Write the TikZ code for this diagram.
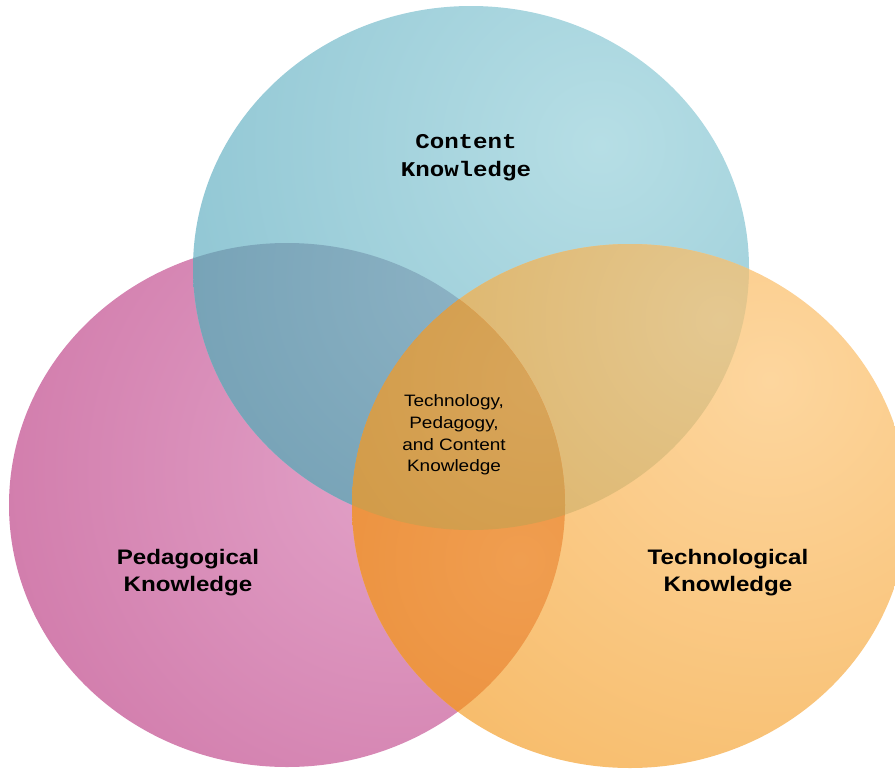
\documentclass[tikz,border=0pt]{standalone}
\usepackage{fontspec}
\newfontfamily\monolabel[FakeStretch=1.15]{Liberation Mono}
\newfontfamily\sanslabel[FakeStretch=1.15]{Liberation Sans}

\definecolor{tealhi}{RGB}{182,222,229}
\definecolor{teallo}{RGB}{112,178,197}
\definecolor{pinkhi}{RGB}{226,162,200}
\definecolor{pinklo}{RGB}{198,98,152}
\definecolor{orangehi}{RGB}{253,214,158}
\definecolor{orangelo}{RGB}{242,166,64}
\definecolor{tphi}{RGB}{140,178,196}
\definecolor{tplo}{RGB}{96,146,168}
\definecolor{tohi}{RGB}{228,200,145}
\definecolor{tolo}{RGB}{218,170,85}
\definecolor{pohi}{RGB}{240,158,80}
\definecolor{polo}{RGB}{232,134,46}
\definecolor{allhi}{RGB}{216,165,90}
\definecolor{alllo}{RGB}{205,148,60}

\tikzset{
  venn/.style={x radius=278, y radius=262},
  biglabel/.style={align=center, text=black, font=\sanslabel\bfseries\fontsize{21}{27}\selectfont},
  monolabel/.style={align=center, text=black, font=\monolabel\bfseries\fontsize{21}{28}\selectfont},
  midlabel/.style={align=center, text=black, font=\sanslabel\fontsize{16.5}{21.7}\selectfont}
}

\begin{document}
\begin{tikzpicture}[x=1pt,y=1pt,yscale=-1,xscale=1]
		\useasboundingbox (0,0) rectangle (895,769);

		% Centres of the three circles
		\coordinate (cteal) at (471,268);
		\coordinate (cpink) at (287,505);
		\coordinate (corange) at (630,506);

		% Pedagogical circle
		\begin{scope}
			\clip (cpink) ellipse [venn];
			\shade[inner color=pinkhi, outer color=pinklo] (400,470) circle [radius=700];
		\end{scope}

		% Content circle
		\begin{scope}
			\clip (cteal) ellipse [venn];
			\shade[inner color=tealhi, outer color=teallo] (600,145) circle [radius=820];
		\end{scope}

		% Technological circle
		\begin{scope}
			\clip (corange) ellipse [venn];
			\shade[inner color=orangehi, outer color=orangelo] (770,380) circle [radius=860];
		\end{scope}

		% Content and pedagogical overlap
		\begin{scope}
			\clip (cpink) ellipse [venn];
			\clip (cteal) ellipse [venn];
			\shade[inner color=tphi, outer color=tplo] (470,280) circle [radius=600];
		\end{scope}

		% Content and technological overlap
		\begin{scope}
			\clip (corange) ellipse [venn];
			\clip (cteal) ellipse [venn];
			\shade[inner color=tohi, outer color=tolo] (720,320) circle [radius=500];
		\end{scope}

		% Pedagogical and technological overlap
		\begin{scope}
			\clip (corange) ellipse [venn];
			\clip (cpink) ellipse [venn];
			\shade[inner color=pohi, outer color=polo] (520,560) circle [radius=400];
		\end{scope}

		% All three
		\begin{scope}
			\clip (corange) ellipse [venn];
			\clip (cpink) ellipse [venn];
			\clip (cteal) ellipse [venn];
			\shade[inner color=allhi, outer color=alllo] (540,380) circle [radius=400];
		\end{scope}

		% Labels
		\node[monolabel] (ck) at (466,158) {Content\\Knowledge};
		\node[biglabel] (pk) at (188,573) {Pedagogical\\Knowledge};
		\node[biglabel] (tk) at (728,573) {Technological\\Knowledge};
		\node[midlabel] (tpck) at (454,435) {Technology,\\Pedagogy,\\and Content\\Knowledge};
	\end{tikzpicture}
\end{document}
